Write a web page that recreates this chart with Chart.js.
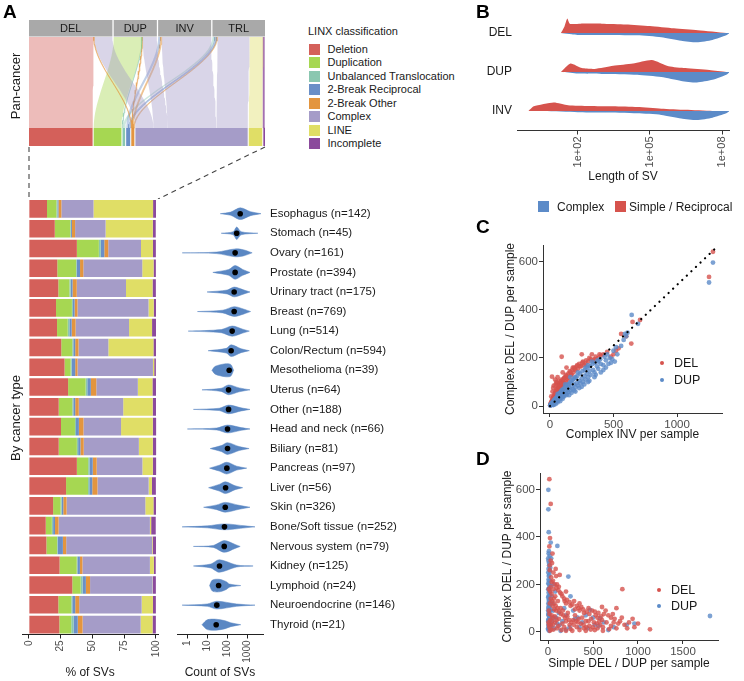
<!DOCTYPE html>
<html>
<head>
<meta charset="utf-8">
<script src="https://cdn.jsdelivr.net/npm/chart.js@4.4.1/dist/chart.umd.min.js"></script>
<style>
  body { margin: 0; background: #fff; font-family: 'Liberation Sans', Arial, sans-serif; color: #1a1a1a; }
  #wrap { position: relative; width: 744px; height: 681px; overflow: hidden; }
  canvas { position: absolute; }
  .txt { position: absolute; white-space: nowrap; line-height: 1; }
  .panel { font-weight: bold; font-size: 19px; color: #000; }
  .rot { transform: translate(-50%, -50%) rotate(-90deg); font-size: 13px; }
  .sq { position: absolute; }
</style>
</head>
<body>
<div id="wrap">
  <canvas id="alluvial" width="290" height="199" style="left:0;top:0"></canvas>
  <canvas id="bars" width="170" height="491" style="left:0;top:190px"></canvas>
  <canvas id="violins" width="290" height="491" style="left:170px;top:190px"></canvas>
  <canvas id="lenChart" width="284" height="220" style="left:460px;top:0"></canvas>
  <canvas id="invChart" width="284" height="230" style="left:460px;top:220px"></canvas>
  <canvas id="simpleChart" width="284" height="231" style="left:460px;top:450px"></canvas>
</div>
<script>
// ---- Panel A: pan-cancer alluvial (SV type -> LINX class), % of all SVs
const svTypes = ['DEL', 'DUP', 'INV', 'TRL'];
const linxClasses = ['Deletion', 'Duplication', 'Unbalanced Translocation', '2-Break Reciprocal',
  '2-Break Other', 'Complex', 'LINE', 'Incomplete'];
const linxColors = ['#d4605a', '#a6d752', '#8ac7b0', '#6a8fc7', '#e3953f', '#a59cc8', '#e0de66', '#8b4a9c'];
const flowFrom = ['DEL', 'DEL', 'DEL', 'DUP', 'DUP', 'DUP', 'DUP', 'INV', 'INV', 'INV',
  'TRL', 'TRL', 'TRL', 'TRL', 'TRL', 'TRL'];
const flowTo = ['Deletion', '2-Break Other', 'Complex', 'Duplication', 'Unbalanced Translocation', '2-Break Other', 'Complex',
  '2-Break Reciprocal', '2-Break Other', 'Complex', 'Unbalanced Translocation', '2-Break Reciprocal', '2-Break Other',
  'Complex', 'LINE', 'Incomplete'];
const flowPct = [26.8, 0.2, 7.6, 11.7, 0.1, 0.2, 5.9, 1.0, 0.5, 20.5, 1.0, 0.7, 0.4, 13.3, 5.7, 0.7];

// ---- Panel A: by cancer type
const cancerTypes = ['Esophagus', 'Stomach', 'Ovary', 'Prostate', 'Urinary tract', 'Breast', 'Lung', 'Colon/Rectum',
  'Mesothelioma', 'Uterus', 'Other', 'Head and neck', 'Biliary', 'Pancreas', 'Liver', 'Skin', 'Bone/Soft tissue',
  'Nervous system', 'Kidney', 'Lymphoid', 'Neuroendocrine', 'Thyroid'];
const sampleN = [142, 45, 161, 394, 175, 769, 514, 594, 39, 64, 188, 66, 81, 97, 56, 326, 252, 79, 125, 24, 146, 21];
const delPct = [14.3, 20.4, 37.8, 22.4, 23.2, 21.4, 22.2, 25.5, 28.1, 30.9, 23.5, 25.3, 23.5, 37.8, 29.3, 19.1, 13.3, 13.8, 24.2, 34.2, 23.2, 24.0];
const dupPct = [7.4, 12.2, 17.3, 14.8, 8.7, 12.5, 8.4, 8.7, 4.8, 13.8, 10.7, 11.0, 14.3, 8.9, 17.3, 5.9, 4.8, 8.4, 13.5, 6.6, 10.2, 9.4];
const unbPct = [0.8, 0.5, 1.5, 0.5, 1.0, 0.8, 1.3, 0.8, 0.8, 1.3, 0.8, 0.8, 1.0, 1.0, 1.0, 0.8, 1.0, 0.5, 0.5, 1.5, 0.8, 1.8];
const recPct = [0.8, 0.8, 2.8, 2.6, 1.5, 1.3, 1.8, 1.5, 2.8, 2.8, 1.5, 2.3, 1.8, 2.6, 2.3, 1.3, 1.5, 4.1, 2.0, 2.6, 2.3, 3.3];
const othPct = [2.3, 2.5, 3.1, 2.6, 3.3, 2.3, 3.1, 2.6, 1.8, 4.3, 2.8, 3.6, 2.6, 3.1, 4.1, 2.6, 2.8, 2.6, 2.0, 3.3, 3.1, 3.8];
const cpxPct = [25.3, 24.0, 25.8, 46.4, 38.8, 55.9, 42.1, 23.5, 59.4, 32.7, 35.0, 29.6, 43.4, 36.0, 40.3, 62.0, 71.9, 67.6, 53.1, 49.2, 49.2, 45.7];
const linePct = [46.9, 37.2, 9.4, 8.9, 20.9, 4.1, 18.1, 35.5, 1.0, 11.5, 23.2, 25.0, 11.0, 8.2, 2.6, 6.4, 1.0, 0.5, 3.1, 0.3, 8.9, 9.4];
const incPct = [2.3, 2.3, 2.3, 1.8, 2.6, 1.8, 3.1, 2.0, 1.3, 2.8, 2.6, 2.6, 2.6, 2.6, 3.1, 2.0, 3.6, 2.6, 1.5, 2.3, 2.3, 2.6];
const pctTicks = [0, 25, 50, 75, 100];

// SV count per sample: median and violin outline (count, half width in rows)
const medianSV = [450, 300, 250, 250, 224, 224, 178, 158, 126, 117, 117, 104, 104, 96, 83, 80, 73, 71, 41, 37, 30, 28];
const violinX = [
  [45, 150, 450, 1500, 5000], [50, 200, 300, 500, 3500], [0.55, 30, 250, 700, 1800], [19, 120, 250, 600, 1400],
  [9.7, 100, 224, 700, 1400], [3.2, 60, 224, 700, 1500], [1.1, 50, 178, 600, 1300], [11, 90, 158, 500, 1300],
  [17, 25, 80, 150, 210], [5.4, 50, 117, 400, 1400], [2, 40, 117, 500, 1400], [1, 30, 104, 500, 1400],
  [14, 50, 104, 400, 1260], [13, 40, 96, 300, 960], [11.6, 40, 83, 250, 600], [6.5, 30, 80, 400, 1400],
  [0.54, 10, 73, 800, 2500], [2, 20, 71, 250, 450], [2, 15, 40, 300, 2000], [13, 18, 40, 90, 130, 480],
  [0.54, 10, 30, 300, 2500], [5.4, 10, 28, 80, 150, 480]
];
const violinW = [
  [0, 0.08, 0.3, 0.1, 0], [0, 0.08, 0.32, 0.08, 0], [0, 0.04, 0.2, 0.15, 0], [0, 0.15, 0.35, 0.15, 0],
  [0, 0.1, 0.25, 0.1, 0], [0, 0.07, 0.25, 0.12, 0], [0, 0.08, 0.26, 0.1, 0], [0, 0.12, 0.3, 0.1, 0],
  [0, 0.2, 0.33, 0.3, 0], [0, 0.08, 0.25, 0.1, 0], [0, 0.06, 0.22, 0.08, 0], [0, 0.05, 0.2, 0.07, 0],
  [0, 0.15, 0.3, 0.1, 0], [0, 0.15, 0.3, 0.1, 0], [0, 0.17, 0.3, 0.1, 0], [0, 0.12, 0.25, 0.1, 0],
  [0, 0.05, 0.15, 0.05, 0], [0, 0.05, 0.3, 0.1, 0], [0, 0.1, 0.32, 0.05, 0], [0, 0.28, 0.32, 0.2, 0.08, 0],
  [0, 0.06, 0.2, 0.06, 0], [0, 0.25, 0.28, 0.2, 0.1, 0]
];
const countTicks = [1, 10, 100, 1000];

// ---- Panel B: SV length, half violins (length in bp, height in rows)
const bTypes = ['DEL', 'DUP', 'INV'];
const simpleLen = [
  [20, 28, 37, 47, 130, 1e3, 1e4, 1e5, 1e6, 1e7, 1.5e8],
  [20, 50, 150, 500, 3e3, 2e4, 1.2e5, 6e5, 3e6, 3e7, 1.5e8],
  [0.9, 1.5, 10, 40, 300, 3e3, 3e4, 3e5, 3e6, 4e7]
];
const simpleH = [
  [0, 0.16, 0.37, 0.24, 0.24, 0.24, 0.22, 0.18, 0.12, 0.07, 0],
  [0, 0.22, 0.1, 0.08, 0.16, 0.22, 0.31, 0.15, 0.1, 0.05, 0],
  [0, 0.12, 0.22, 0.15, 0.13, 0.12, 0.1, 0.06, 0.03, 0]
];
const complexLen = [
  [20, 100, 1e3, 3e4, 3e5, 2e6, 9e6, 4e7, 1.5e8, 2.1e8],
  [25, 100, 1e3, 3e4, 3e5, 2e6, 9e6, 4e7, 1.5e8, 2.1e8],
  [4, 100, 1e3, 3e4, 3e5, 2e6, 9e6, 4e7, 1.5e8, 2.1e8]
];
const complexH = [
  [0, 0.05, 0.05, 0.06, 0.11, 0.2, 0.24, 0.18, 0.06, 0],
  [0, 0.04, 0.05, 0.07, 0.13, 0.23, 0.27, 0.2, 0.07, 0],
  [0, 0.03, 0.04, 0.06, 0.1, 0.19, 0.23, 0.17, 0.06, 0]
];
const lenTicks = [1e2, 1e5, 1e8];

// ---- Panel C: complex DEL/DUP vs complex INV per sample
const cDel = [[2,3],[5,8],[8,5],[10,15],[12,10],[15,22],[18,12],[20,28],[22,18],[25,35],[28,20],[30,40],[32,26],[35,48],[38,30],
  [40,55],[42,38],[45,60],[48,42],[50,70],[55,50],[58,75],[60,45],[65,80],[68,58],[70,90],[75,65],[78,95],[80,70],[85,100],
  [88,78],[90,110],[95,85],[100,105],[105,90],[110,115],[115,95],[120,120],[125,100],[130,125],[140,110],[145,135],[150,120],
  [160,140],[170,130],[175,150],[185,140],[190,160],[200,150],[210,165],[220,155],[230,175],[245,165],[255,180],[270,170],
  [285,190],[300,185],[320,195],[340,190],[360,205],[380,200],[400,210],[16,122],[40,110],[60,120],[92,205],[130,160],
  [250,215],[330,215],[480,205],[500,215],[520,230],[540,240],[560,300],[600,290],[640,260],[709,358],[650,350],
  [1252,537],[1283,642],[30,85],[55,95],[20,60],
  [6,12],[14,18],[24,30],[34,40],[44,52],[54,62],[64,70],[74,82],[84,88],[94,96],[104,110],[114,118],[124,130],[134,115],
  [155,145],[165,130],[180,160],[195,155],[215,170],[235,165],[260,185],[280,175],[310,200],[350,195],[390,215],[420,215],
  [450,225],[25,75],[45,90],[70,105],[100,140],[50,100],[10,40]];
const cDup = [[2,2],[5,3],[8,6],[10,4],[12,8],[15,6],[18,10],[20,7],[22,14],[25,10],[28,16],[30,12],[35,20],[38,14],[40,22],
  [45,18],[50,26],[55,20],[60,30],[65,24],[70,35],[75,28],[80,40],[85,32],[90,45],[95,38],[100,50],[105,42],[110,55],[120,48],
  [125,62],[130,52],[140,68],[145,58],[150,75],[160,65],[170,82],[180,70],[190,90],[200,78],[210,95],[220,85],[230,105],
  [240,95],[250,115],[260,100],[270,125],[280,110],[290,135],[300,120],[310,145],[320,130],[340,150],[350,140],[370,165],
  [380,155],[400,175],[420,170],[440,190],[470,200],[490,195],[510,185],[530,215],[560,250],[580,275],[600,290],[643,379],
  [693,342],[1252,514],[1283,597],[120,90],[200,120],[60,50],[300,170],
  [4,5],[9,9],[14,12],[19,15],[24,18],[29,22],[34,25],[39,28],[44,30],[49,34],[54,38],[59,40],[64,44],[69,48],[74,52],
  [79,55],[84,58],[89,62],[94,65],[99,68],[109,72],[119,78],[129,82],[139,88],[149,92],[159,98],[169,104],[179,108],[189,114],
  [199,118],[215,125],[235,135],[255,145],[275,150],[295,160],[315,165],[335,175],[355,180],[375,190],[395,195],[430,205],
  [450,215],[150,45],[200,60],[250,80],[300,100],[350,120],[100,30],[60,15],[30,5],[420,150],[460,175],[500,230],[520,245],
  [590,300],[610,305],
  [110,40],[130,45],[170,55],[190,65],[230,75],[270,90],[310,105],[360,130],[400,140],[440,160],[480,180],[25,4],[45,8],
  [80,20],[160,120],[220,140],[280,160],[330,185],[380,185]];
const refLineX = [0, 1312];
const refLineY = [0, 661];

// ---- Panel D: complex vs simple DEL/DUP per sample
const dDel = [[15,643],[30,539],[22,395],[15,360],[30,300],[45,290],[20,260],[60,250],[90,235],[100,200],[40,210],[10,180],
  [25,170],[60,180],[120,190],[80,150],[150,160],[30,140],[110,130],[180,140],[200,120],[50,110],[140,100],[250,110],[300,95],
  [90,90],[350,90],[400,80],[220,80],[170,70],[450,100],[520,85],[600,105],[640,90],[760,100],[826,180],[700,60],[550,60],
  [480,55],[420,45],[380,60],[330,40],[280,50],[240,30],[200,45],[160,35],[120,55],[80,40],[50,60],[30,30],[15,20],[60,10],
  [100,15],[150,8],[250,12],[320,20],[400,15],[460,25],[500,20],[580,30],[650,40],[700,25],[800,45],[850,30],[880,15],
  [960,20],[1000,35],[1133,11],[720,75],[600,50],[550,15],[300,70],[350,120],[200,170],[130,240],[70,120],[40,70],[10,90],[5,40],
  [35,230],[55,215],[75,200],[95,185],[115,175],[135,165],[160,150],[185,130],[210,135],[240,125],[270,115],[290,130],[320,110],
  [340,100],[370,105],[390,95],[430,85],[460,75],[490,90],[530,70],[560,80],[590,65],[620,75],[670,70],[740,55],[780,35],
  [820,60],[900,40],[940,55],[20,120],[45,130],[65,140],[85,110],[105,100],[125,85],[145,75],[165,90],[190,60],[215,65],
  [235,50],[260,40],[285,30],[310,45],[340,55],[365,35],[395,30],[425,20],[450,45],[475,10],[510,40],[540,35],[570,45],
  [610,20],[680,12],[730,40],[760,15],[40,160],[70,95],[95,50],[115,25],[180,20],[200,5],[270,5],[350,8],[420,5],[520,8],
  [610,5],[10,30],[20,5],[35,10],[25,50],[15,75],[55,30],[75,65],[45,45],[30,190],[85,265],[50,330],[20,280]];
const dDup = [[4,598],[4,516],[30,376],[104,362],[8,420],[10,340],[5,300],[12,280],[3,250],[15,240],[6,220],[226,233],[10,200],
  [3,180],[18,170],[6,150],[12,130],[4,120],[20,110],[8,100],[2,90],[14,80],[6,70],[25,60],[3,50],[10,40],[5,30],[20,20],[2,10],
  [12,5],[40,150],[60,90],[90,60],[130,30],[180,100],[250,150],[300,55],[350,20],[467,93],[578,58],[670,8],[874,30],[960,35],
  [520,30],[420,70],[1800,67],[140,5],[200,10],[35,25],[70,15],
  [2,15],[7,25],[15,35],[4,45],[9,55],[17,65],[3,75],[11,85],[22,95],[5,105],[14,115],[25,125],[9,135],[3,145],[20,155],
  [7,165],[13,185],[25,195],[4,205],[16,215],[8,235],[20,255],[6,265],[11,290],[3,310],[18,320],[7,330],[25,270],[30,90],
  [45,45],[50,120],[70,60],[100,35],[120,80],[160,45],[200,70],[240,20],[280,90],[330,60],[380,40],[440,15],[500,60],
  [560,25],[620,40],[730,20],[60,200],[35,310],[80,170]];

const FONT = "'Liberation Sans', Arial, Helvetica, sans-serif";
const red = '#d6534d', blue = '#5c8bc8', violinBlue = '#5a87c3';

Chart.defaults.font.family = FONT;
Chart.defaults.color = '#4d4d4d';
Chart.defaults.animation = false;
Chart.defaults.plugins.legend.display = false;
Chart.defaults.plugins.tooltip.enabled = false;

function rgba(hex, a) {
  const n = parseInt(hex.slice(1), 16);
  return `rgba(${n >> 16},${(n >> 8) & 255},${n & 255},${a})`;
}
function fixedTicks(values) {
  return scale => { scale.ticks = values.map(v => ({ value: v })); };
}
const sum = arr => arr.reduce((a, b) => a + b, 0);

// ---------- alluvial layout
const total = sum(flowPct);
const TOP_GAP = 0.55, BOT_GAP = 0.45;
const topK = (100 - TOP_GAP * (svTypes.length - 1)) / total;
const botK = (100 - BOT_GAP * (linxClasses.length - 1)) / total;
const srcTot = svTypes.map(s => sum(flowPct.filter((v, i) => flowFrom[i] === s)));
const tgtTot = linxClasses.map(c => sum(flowPct.filter((v, i) => flowTo[i] === c)));
const srcStart = [], tgtStart = [];
let acc = 0;
srcTot.forEach(t => { srcStart.push(acc); acc += t * topK + TOP_GAP; });
acc = 0;
tgtTot.forEach(t => { tgtStart.push(acc); acc += t * botK + BOT_GAP; });

const si = i => svTypes.indexOf(flowFrom[i]);
const ti = i => linxClasses.indexOf(flowTo[i]);
const topPos = [], botPos = [];
const srcCur = srcStart.slice(), tgtCur = tgtStart.slice();
flowPct.map((v, i) => i).sort((a, b) => si(a) - si(b) || ti(a) - ti(b)).forEach(i => {
  topPos[i] = [srcCur[si(i)], srcCur[si(i)] + flowPct[i] * topK];
  srcCur[si(i)] = topPos[i][1];
});
flowPct.map((v, i) => i).sort((a, b) => ti(a) - ti(b) || si(a) - si(b)).forEach(i => {
  botPos[i] = [tgtCur[ti(i)], tgtCur[ti(i)] + flowPct[i] * botK];
  tgtCur[ti(i)] = botPos[i][1];
});

const BAR_H = 18, FLOW_TOP = 109;
function flowShape(a, b) {
  const left = [], right = [];
  for (let k = 0; k <= 24; k++) {
    const t = k / 24, s = t * t * (3 - 2 * t);
    const y = FLOW_TOP - t * (FLOW_TOP - BAR_H);
    left.push({ x: a[0] + (b[0] - a[0]) * s, y });
    right.push({ x: a[1] + (b[1] - a[1]) * s, y });
  }
  return left.concat(right.reverse());
}

const flowSets = flowPct.map((v, i) => ({
  data: flowShape(topPos[i], botPos[i]),
  showLine: true, fill: 'shape', pointRadius: 0, tension: 0,
  backgroundColor: rgba(linxColors[ti(i)], 0.42),
  borderColor: rgba(linxColors[ti(i)], 0.6),
  borderWidth: v < 1 ? 0.7 : 0
}));
const stratumSets = linxClasses.map((c, k) => {
  const x0 = tgtStart[k], x1 = tgtStart[k] + tgtTot[k] * botK;
  return {
    data: [{ x: x0, y: 0 }, { x: x1, y: 0 }, { x: x1, y: BAR_H }, { x: x0, y: BAR_H }],
    showLine: true, fill: 'shape', pointRadius: 0, borderWidth: 0,
    backgroundColor: linxColors[k]
  };
});

const stripPlugin = {
  id: 'strip',
  afterDraw(chart) {
    const { ctx, chartArea, scales: { x } } = chart;
    ctx.save();
    ctx.font = '11px ' + FONT;
    ctx.textAlign = 'center';
    ctx.textBaseline = 'middle';
    svTypes.forEach((s, i) => {
      const x0 = x.getPixelForValue(srcStart[i]);
      const x1 = x.getPixelForValue(srcStart[i] + srcTot[i] * topK);
      ctx.fillStyle = '#a9a9a9';
      ctx.fillRect(x0, chartArea.top - 17, x1 - x0, 16.5);
      ctx.fillStyle = '#1a1a1a';
      ctx.fillText(s, (x0 + x1) / 2, chartArea.top - 8.3);
    });
    // dashed zoom lines down to the per-cancer bars
    ctx.setLineDash([5, 4]);
    ctx.strokeStyle = '#444';
    ctx.lineWidth = 1.1;
    const xl = x.getPixelForValue(0), xr = x.getPixelForValue(100);
    ctx.beginPath();
    ctx.moveTo(xl, chartArea.bottom + 1);
    ctx.lineTo(xl, chart.height);
    ctx.moveTo(xr, chartArea.bottom + 1);
    ctx.lineTo(158, chart.height);
    ctx.stroke();
    ctx.restore();
  }
};

new Chart(document.getElementById('alluvial'), {
  type: 'scatter',
  data: { datasets: flowSets.concat(stratumSets) },
  options: {
    responsive: false,
    layout: { padding: { left: 29, right: 25, top: 37, bottom: 53 } },
    scales: {
      x: { type: 'linear', display: false, min: 0, max: 100 },
      y: { type: 'linear', display: false, min: 0, max: FLOW_TOP }
    }
  },
  plugins: [stripPlugin]
});

// ---------- stacked bars by cancer type
const classPct = [delPct, dupPct, unbPct, recPct, othPct, cpxPct, linePct, incPct];
new Chart(document.getElementById('bars'), {
  type: 'bar',
  data: {
    labels: cancerTypes,
    datasets: linxClasses.map((c, k) => ({
      label: c, data: classPct[k], backgroundColor: linxColors[k], borderWidth: 0,
      barPercentage: 0.89, categoryPercentage: 1
    }))
  },
  options: {
    indexAxis: 'y',
    responsive: false,
    layout: { padding: { left: 22, right: 8, top: 9, bottom: 0 } },
    scales: {
      y: { display: false, stacked: true },
      x: {
        stacked: true, min: -5.4, max: 101.8,
        afterBuildTicks: fixedTicks(pctTicks),
        afterFit: s => { s.height = 46.5; },
        ticks: { minRotation: 90, maxRotation: 90, font: { size: 10 }, color: '#4d4d4d', padding: 2 },
        grid: { drawOnChartArea: false, tickLength: 4, color: '#222' },
        border: { color: '#222' },
        title: { display: true, text: '% of SVs', color: '#1a1a1a', font: { size: 12 }, padding: { top: 0, bottom: 1 } }
      }
    }
  }
});

// ---------- violins of SV count
const violinSets = cancerTypes.map((t, i) => {
  const upper = violinX[i].map((v, k) => ({ x: v, y: i - violinW[i][k] }));
  const lower = violinX[i].map((v, k) => ({ x: v, y: i + violinW[i][k] })).reverse();
  return {
    data: upper.concat(lower), showLine: true, fill: 'shape', pointRadius: 0, tension: 0.3,
    backgroundColor: violinBlue, borderColor: violinBlue, borderWidth: 0.5
  };
});
const medianSet = {
  data: medianSV.map((v, i) => ({ x: v, y: i })),
  pointRadius: 2.8, backgroundColor: '#000', borderWidth: 0
};
new Chart(document.getElementById('violins'), {
  type: 'scatter',
  data: { datasets: [medianSet].concat(violinSets) },
  options: {
    responsive: false,
    layout: { padding: { left: 7, right: 0, top: 9, bottom: 0 } },
    scales: {
      x: {
        type: 'logarithmic', min: 0.316, max: 6300,
        afterBuildTicks: fixedTicks(countTicks),
        afterFit: s => { s.height = 46.5; },
        ticks: { minRotation: 90, maxRotation: 90, font: { size: 10 }, color: '#4d4d4d', padding: 2, callback: v => String(v) },
        grid: { drawOnChartArea: false, tickLength: 4, color: '#222' },
        border: { color: '#222' },
        title: { display: true, text: 'Count of SVs', color: '#1a1a1a', font: { size: 12 }, padding: { top: 0, bottom: 1 } }
      },
      y: {
        type: 'linear', position: 'right', reverse: true, min: -0.5, max: 21.5,
        afterBuildTicks: fixedTicks(cancerTypes.map((t, i) => i)),
        afterFit: s => { s.width = 197; },
        ticks: {
          autoSkip: false, padding: 7, color: '#1a1a1a', font: { size: 11.5 },
          callback: v => `${cancerTypes[v]} (n=${sampleN[v]})`
        },
        grid: { display: false, drawTicks: false },
        border: { display: false }
      }
    }
  }
});

// ---------- Panel B: length of SV
const halfSets = [];
bTypes.forEach((t, r) => {
  halfSets.push({
    data: simpleLen[r].map((v, k) => ({ x: v, y: r - simpleH[r][k] })),
    showLine: true, fill: 'shape', pointRadius: 0, tension: 0.2, borderWidth: 0, backgroundColor: red
  });
  halfSets.push({
    data: complexLen[r].map((v, k) => ({ x: v, y: r + complexH[r][k] })),
    showLine: true, fill: 'shape', pointRadius: 0, tension: 0.2, borderWidth: 0, backgroundColor: blue
  });
});
new Chart(document.getElementById('lenChart'), {
  type: 'scatter',
  data: { datasets: halfSets },
  options: {
    responsive: false,
    layout: { padding: { left: 0, right: 15, top: 13.5, bottom: 35 } },
    scales: {
      x: {
        type: 'logarithmic', min: 0.33, max: 1.95e8,
        afterBuildTicks: fixedTicks(lenTicks),
        afterFit: s => { s.height = 54.5; },
        ticks: {
          minRotation: 90, maxRotation: 90, font: { size: 11 }, color: '#4d4d4d', padding: 2,
          callback: v => Number(v).toExponential().replace(/e\+(\d)$/, 'e+0$1')
        },
        grid: { drawOnChartArea: false, tickLength: 4, color: '#333' },
        border: { color: '#333' },
        title: { display: true, text: 'Length of SV', color: '#1a1a1a', font: { size: 12 }, padding: { top: 0, bottom: 1 } }
      },
      y: {
        type: 'linear', reverse: true, min: -0.5, max: 2.5,
        afterBuildTicks: fixedTicks([0, 1, 2]),
        afterFit: s => { s.width = 57; },
        ticks: { padding: 5, color: '#1a1a1a', font: { size: 12 }, callback: v => bTypes[v] },
        grid: { display: false, drawTicks: false },
        border: { display: false }
      }
    }
  }
});

// ---------- Panels C and D: scatter plots
function scatterAxes(o) {
  const axis = (min, max, ticks, title, fit) => ({
    type: 'linear', min, max,
    afterBuildTicks: fixedTicks(ticks),
    afterFit: fit,
    ticks: { maxRotation: 0, font: { size: 11.5 }, color: '#4d4d4d', padding: 1, callback: v => String(v) },
    grid: { drawOnChartArea: false, tickLength: 4, color: '#333' },
    border: { color: '#333' },
    title: { display: true, text: title, color: '#1a1a1a', font: { size: 12 }, padding: { top: 1, bottom: 1 } }
  });
  return {
    x: axis(o.xMin, o.xMax, o.xTicks, o.xTitle, s => { s.height = o.xH; }),
    y: axis(o.yMin, o.yMax, o.yTicks, o.yTitle, s => { s.width = o.yW; })
  };
}
const pts = arr => arr.map(p => ({ x: p[0], y: p[1] }));
const dotSet = (arr, color) => ({ data: pts(arr), pointRadius: 2.4, borderWidth: 0, backgroundColor: rgba(color, 0.8) });

new Chart(document.getElementById('invChart'), {
  type: 'scatter',
  data: {
    datasets: [
      {
        data: refLineX.map((v, i) => ({ x: v, y: refLineY[i] })), showLine: true, pointRadius: 0,
        borderColor: '#000', borderWidth: 2.2, borderDash: [0.1, 6.2], borderCapStyle: 'round'
      },
      dotSet(cDup, blue),
      dotSet(cDel, red)
    ]
  },
  options: {
    responsive: false,
    layout: { padding: { left: 42, right: 22, top: 25, bottom: 7 } },
    scales: scatterAxes({
      xMin: -55, xMax: 1354, xTicks: [0, 500, 1000], xTitle: 'Complex INV per sample', xH: 30,
      yMin: -29, yMax: 670, yTicks: [0, 200, 400, 600], yTitle: 'Complex DEL / DUP per sample', yW: 41
    })
  }
});

new Chart(document.getElementById('simpleChart'), {
  type: 'scatter',
  data: { datasets: [dotSet(dDel, red), dotSet(dDup, blue)] },
  options: {
    responsive: false,
    layout: { padding: { left: 39, right: 26, top: 23, bottom: 9 } },
    scales: scatterAxes({
      xMin: -89, xMax: 1889, xTicks: [0, 500, 1000, 1500], xTitle: 'Simple DEL / DUP per sample', xH: 32,
      yMin: -34, yMax: 669, yTicks: [0, 200, 400, 600], yTitle: 'Complex DEL / DUP per sample', yW: 41
    })
  }
});

// ---------- text, legends
const wrap = document.getElementById('wrap');
function addText(text, left, top, cls, style) {
  const d = document.createElement('div');
  d.className = 'txt ' + (cls || '');
  d.textContent = text;
  d.style.left = left + 'px';
  d.style.top = top + 'px';
  Object.assign(d.style, style || {});
  wrap.appendChild(d);
  return d;
}
function addBox(left, top, w, h, color, round) {
  const d = document.createElement('div');
  d.className = 'sq';
  Object.assign(d.style, { left: left + 'px', top: top + 'px', width: w + 'px', height: h + 'px', background: color,
    borderRadius: round ? '50%' : '0' });
  wrap.appendChild(d);
}

addText('A', 3, 2, 'panel');
addText('B', 476, 2, 'panel');
addText('C', 476, 217, 'panel');
addText('D', 476, 449, 'panel');
addText('Pan-cancer', 15, 86, 'rot');
addText('By cancer type', 15, 418, 'rot');

addText('LINX classification', 308, 26, '', { fontSize: '11px' });
linxClasses.forEach((c, k) => {
  const cy = 49.3 + k * 13.5;
  addBox(309, cy - 5.5, 11, 11, linxColors[k]);
  addText(c, 327.5, cy - 5.5, '', { fontSize: '11px' });
});

addBox(538, 201, 10.5, 10.5, blue);
addText('Complex', 557, 200.5, '', { fontSize: '12px' });
addBox(615, 201, 10.5, 10.5, red);
addText('Simple / Reciprocal', 629, 200.5, '', { fontSize: '12px' });

[['DEL', red, 363], ['DUP', blue, 380]].forEach(([t, c, y]) => {
  addBox(659.5, y - 2.3, 4.6, 4.6, c, true);
  addText(t, 674, y - 6.5, '', { fontSize: '12.5px' });
});
[['DEL', red, 590], ['DUP', blue, 606]].forEach(([t, c, y]) => {
  addBox(656.5, y - 2.3, 4.6, 4.6, c, true);
  addText(t, 671, y - 6.5, '', { fontSize: '12.5px' });
});
</script>
</body>
</html>
